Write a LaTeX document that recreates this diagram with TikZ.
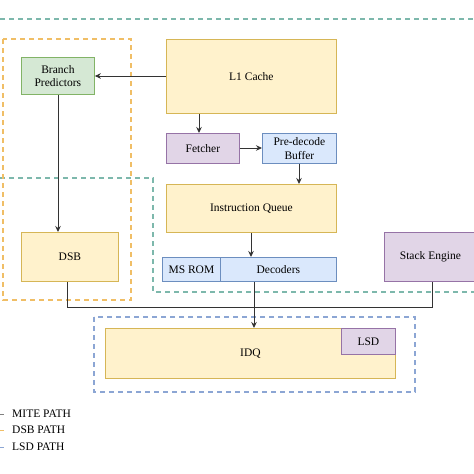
\documentclass[tikz,border=0pt]{standalone}
\usepackage{fontspec}
\setmainfont{Liberation Serif}
\usetikzlibrary{arrows.meta}
\definecolor{yfill}{HTML}{FFF2CC}\definecolor{ydraw}{HTML}{D6B656}
\definecolor{gfill}{HTML}{D5E8D4}\definecolor{gdraw}{HTML}{82B366}
\definecolor{pfill}{HTML}{E1D5E7}\definecolor{pdraw}{HTML}{9673A6}
\definecolor{bfill}{HTML}{DAE8FC}\definecolor{bdraw}{HTML}{6C8EBF}
\definecolor{mite}{HTML}{7DB8AC}\definecolor{dsbc}{HTML}{F0BE66}\definecolor{lsdc}{HTML}{8CA6D4}
\definecolor{wire}{HTML}{333333}
\tikzset{
  blk/.style={draw, line width=0.8pt, anchor=north west, inner sep=1pt, align=center,
    font=\fontsize{11.5}{13.5}\selectfont, text=black},
  ybox/.style={blk, fill=yfill, draw=ydraw},
  gbox/.style={blk, fill=gfill, draw=gdraw},
  pbox/.style={blk, fill=pfill, draw=pdraw},
  bbox/.style={blk, fill=bfill, draw=bdraw},
  conn/.style={draw=wire, line width=1pt},
  arr/.style={conn, -{Stealth[length=6pt,width=5.5pt]}},
  pathline/.style={dash pattern=on 5pt off 4pt, line width=1.2pt},
  legtext/.style={anchor=west, font=\fontsize{11.5}{13}\selectfont, inner sep=0pt}
}
\begin{document}
\begin{tikzpicture}[x=1pt,y=-1pt]
\useasboundingbox (0,0) rectangle (474,474);
\clip (0,0) rectangle (474,474);
% path outlines
\draw[pathline, draw=mite] (0,19) -- (474,19);
\draw[pathline, draw=mite] (0,178) -- (153,178) -- (153,292) -- (474,292);
\draw[pathline, draw=dsbc] (3,39) rectangle (131,300);
\draw[pathline, draw=lsdc] (94,317) rectangle (415,392);
% blocks
\node[gbox, minimum width=73pt, minimum height=37pt] (bp) at (21,57) {Branch\\Predictors};
\node[ybox, minimum width=170pt, minimum height=74pt] (l1) at (166,39) {L1 Cache};
\node[pbox, minimum width=73pt, minimum height=30pt] (fe) at (166,133) {Fetcher};
\node[bbox, minimum width=74pt, minimum height=30pt] (pd) at (262,133) {Pre-decode\\Buffer};
\node[ybox, minimum width=170pt, minimum height=48pt] (iq) at (166,184) {Instruction Queue};
\node[bbox, minimum width=58pt, minimum height=24pt] (ms) at (162,257) {MS ROM};
\node[bbox, minimum width=116pt, minimum height=24pt] (dec) at (220,257) {Decoders};
\node[pbox, minimum width=92pt, minimum height=49pt] (se) at (384,232) {Stack Engine};
\node[ybox, minimum width=97pt, minimum height=49pt] (dsb) at (21,232) {DSB};
\node[ybox, minimum width=290pt, minimum height=50pt] (idq) at (105,328) {IDQ};
\node[pbox, minimum width=54pt, minimum height=26pt] (lsd) at (341,328) {LSD};
% connectors
\draw[arr] (l1.west |- 0,76) -- (bp.east |- 0,76);
\draw[arr] (l1.south -| 199,0) -- (fe.north -| 199,0);
\draw[arr] (fe.east |- 0,148) -- (pd.west |- 0,148);
\draw[arr] (pd.south -| 299,0) -- (iq.north -| 299,0);
\draw[arr] (bp.south -| 58,0) -- (dsb.north -| 58,0);
\draw[arr] (iq.south -| 251,0) -- (dec.north -| 251,0);
\draw[arr] (dec.south -| 254,0) -- (idq.north -| 254,0);
\coordinate (c1) at (67,307);
\coordinate (c2) at (432,307);
\draw[conn] (dsb.south -| c1) -- (c1) -- (c2) -- (se.south -| c2);
% legend
\draw[line width=1pt, draw=gray] (0,414) -- (4,414);
\draw[line width=1pt, draw=dsbc] (0,430) -- (4,430);
\draw[line width=1pt, draw=lsdc] (0,447) -- (4,447);
\node[legtext] (l1t) at (12,414) {MITE PATH};
\node[legtext] (l2t) at (12,430) {DSB PATH};
\node[legtext] (l3t) at (12,447) {LSD PATH};
\end{tikzpicture}
\end{document}
